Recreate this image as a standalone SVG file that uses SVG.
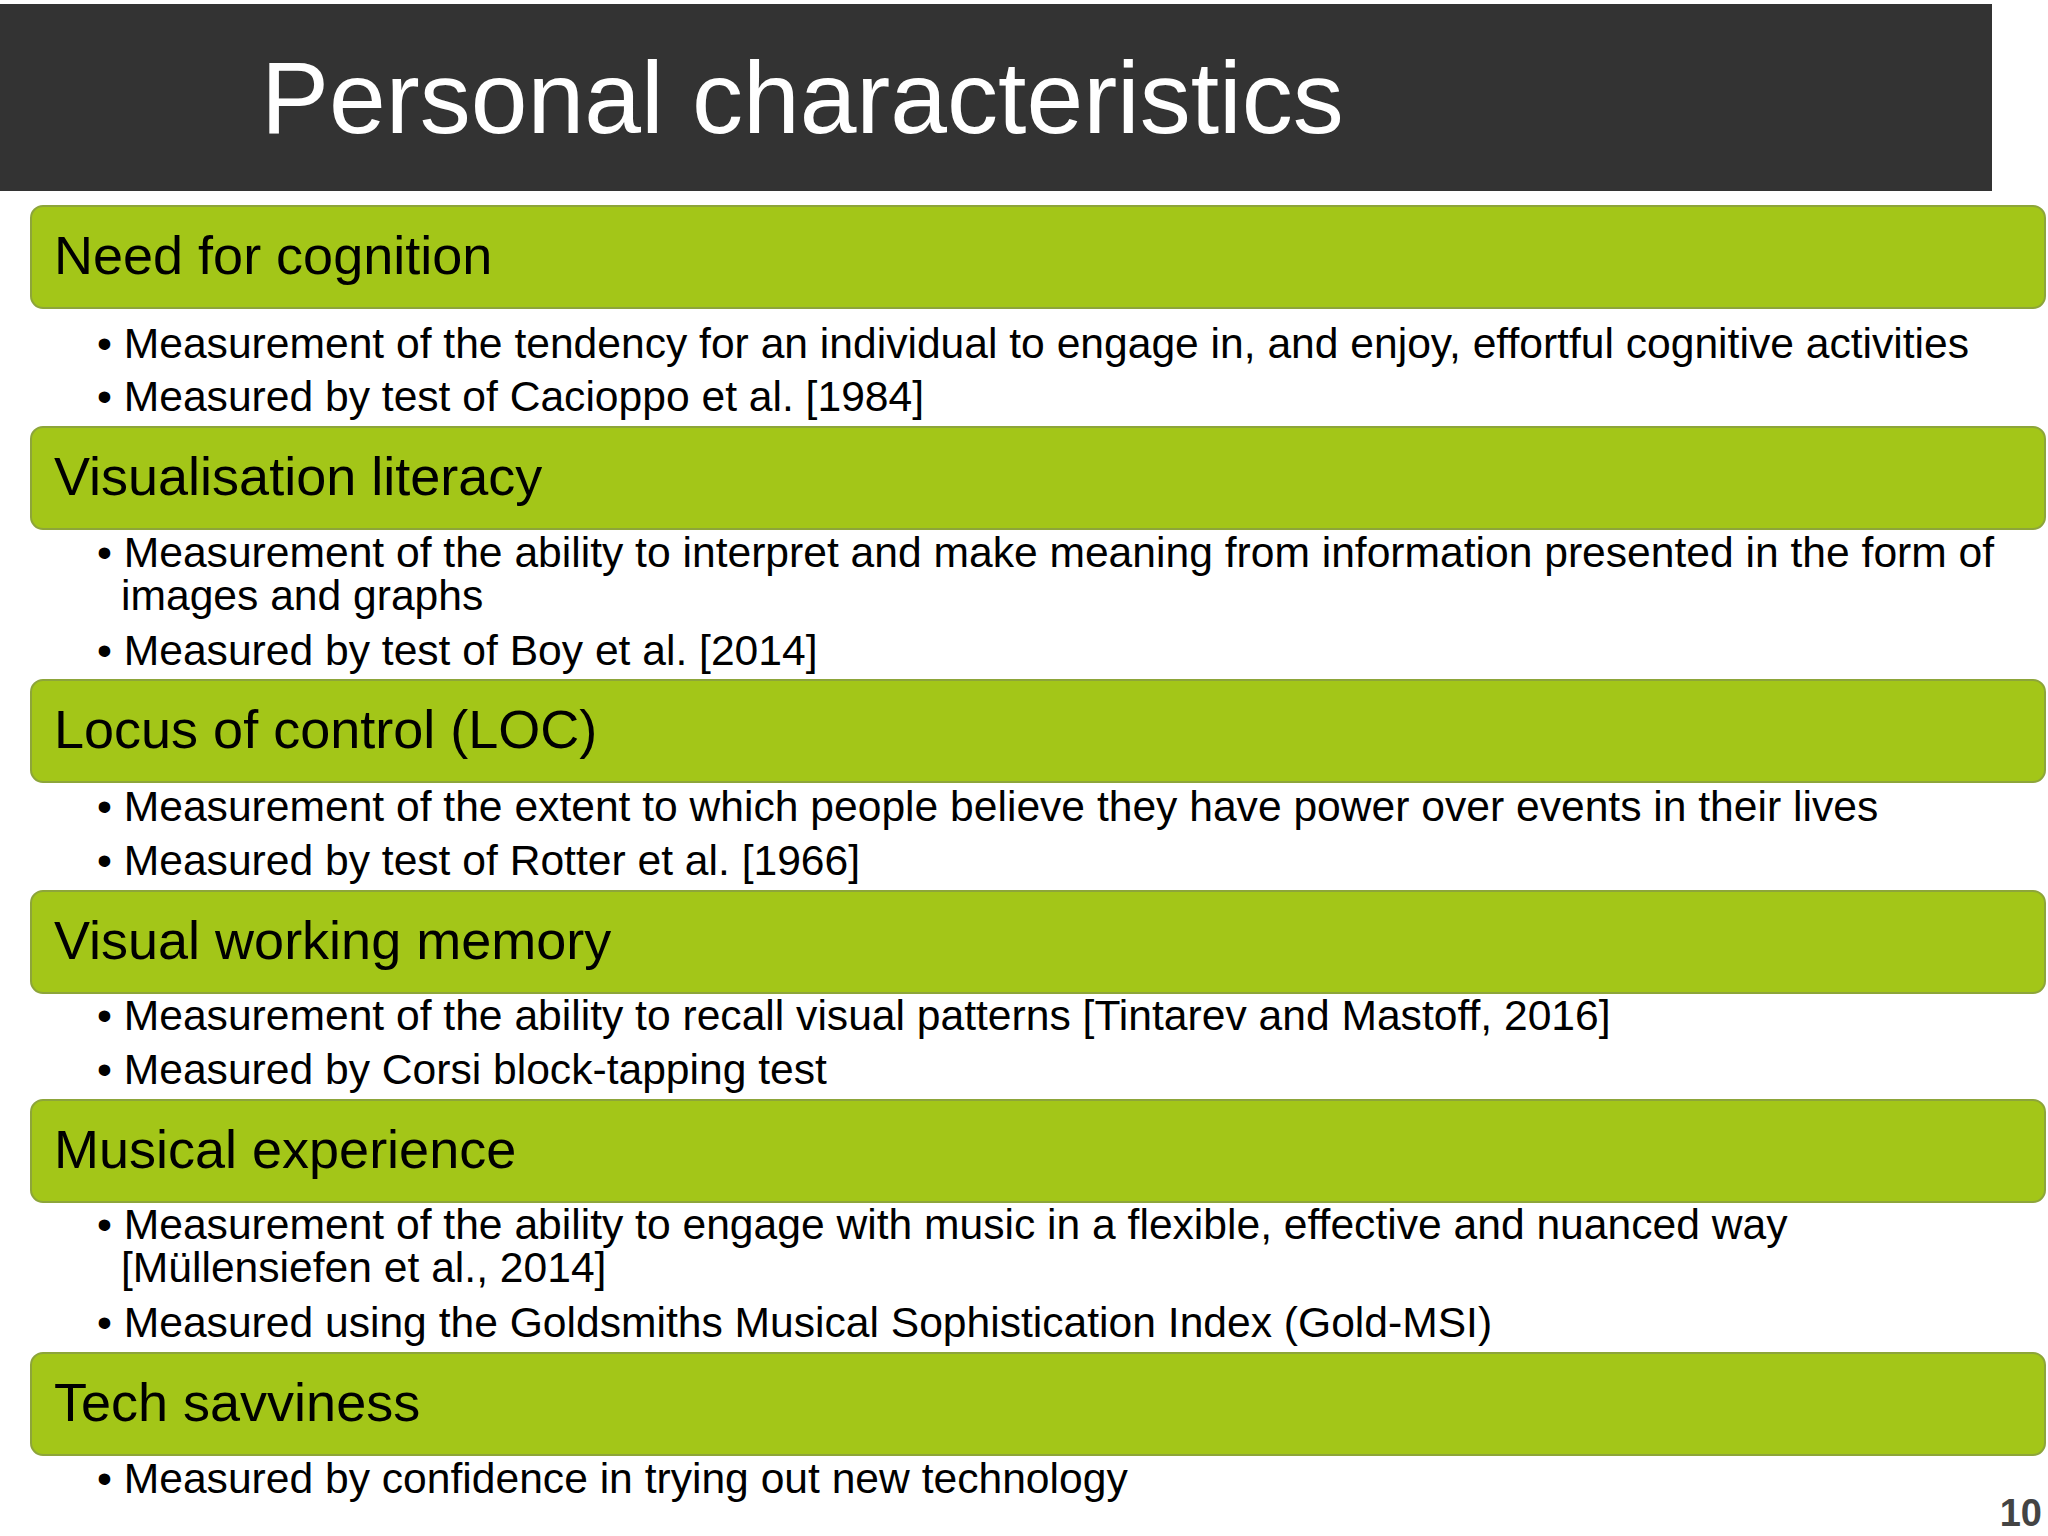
<svg xmlns="http://www.w3.org/2000/svg" width="2048" height="1536" viewBox="0 0 2048 1536">
<style>
.bar{fill:#a3c618;stroke:#8da53a;stroke-width:2}
.h{font-family:"Liberation Sans",Arial,sans-serif;font-size:54px;fill:#000}
.b{font-family:"Liberation Sans",Arial,sans-serif;font-size:42.6px;fill:#000}
</style>
<rect width="2048" height="1536" fill="#fff"/>
<g id="title"><rect x="0" y="4" width="1992" height="187" fill="#333333"/>
<text x="261" y="133" font-family="Liberation Sans,Arial,sans-serif" font-size="102" fill="#fff">Personal characteristics</text></g>
<g id="n1"><rect class="bar" x="31" y="206" width="2014" height="102" rx="12"/><text class="h" x="54" y="274">Need for cognition</text>
<text class="b" x="97" y="358">• Measurement of the tendency for an individual to engage in, and enjoy, effortful cognitive activities</text>
<text class="b" x="97" y="411">• Measured by test of Cacioppo et al. [1984]</text></g>
<g id="n2"><rect class="bar" x="31" y="427" width="2014" height="102" rx="12"/><text class="h" x="54" y="495">Visualisation literacy</text>
<text class="b" x="97" y="567">• Measurement of the ability to interpret and make meaning from information presented in the form of</text>
<text class="b" x="121" y="610">images and graphs</text>
<text class="b" x="97" y="665">• Measured by test of Boy et al. [2014]</text></g>
<g id="n3"><rect class="bar" x="31" y="680" width="2014" height="102" rx="12"/><text class="h" x="54" y="748">Locus of control (LOC)</text>
<text class="b" x="97" y="821">• Measurement of the extent to which people believe they have power over events in their lives</text>
<text class="b" x="97" y="875">• Measured by test of Rotter et al. [1966]</text></g>
<g id="n4"><rect class="bar" x="31" y="891" width="2014" height="102" rx="12"/><text class="h" x="54" y="959">Visual working memory</text>
<text class="b" x="97" y="1030">• Measurement of the ability to recall visual patterns [Tintarev and Mastoff, 2016]</text>
<text class="b" x="97" y="1084">• Measured by Corsi block-tapping test</text></g>
<g id="n5"><rect class="bar" x="31" y="1100" width="2014" height="102" rx="12"/><text class="h" x="54" y="1168">Musical experience</text>
<text class="b" x="97" y="1239">• Measurement of the ability to engage with music in a flexible, effective and nuanced way</text>
<text class="b" x="121" y="1282">[Müllensiefen et al., 2014]</text>
<text class="b" x="97" y="1337">• Measured using the Goldsmiths Musical Sophistication Index (Gold-MSI)</text></g>
<g id="n6"><rect class="bar" x="31" y="1353" width="2014" height="102" rx="12"/><text class="h" x="54" y="1421">Tech savviness</text>
<text class="b" x="97" y="1493">• Measured by confidence in trying out new technology</text></g>
<g id="connectors"/>
<text x="2042" y="1526" text-anchor="end" font-family="Liberation Sans,Arial,sans-serif" font-size="38" font-weight="bold" fill="#444">10</text>
</svg>
